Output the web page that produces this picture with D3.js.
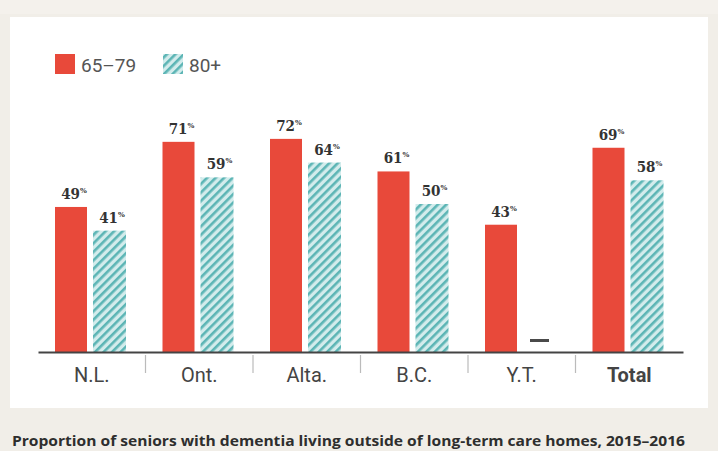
<!DOCTYPE html>
<html>
<head>
<meta charset="utf-8">
<script src="https://cdn.jsdelivr.net/npm/d3@7"></script>
<style>
  html, body { margin: 0; padding: 0; background: #f1eee8; }
  svg { display: block; }
</style>
</head>
<body>
<svg id="chart"></svg>
<script>
// chart data
const regions = ['N.L.', 'Ont.', 'Alta.', 'B.C.', 'Y.T.', 'Total'];
const series = ['65–79', '80+'];
const young = [49, 71, 72, 61, 43, 69];
const old = [41, 59, 64, 50, null, 58];

const dim = { width: 718, height: 451 };
const svg = d3.select('#chart')
  .attr('width', dim.width)
  .attr('height', dim.height);

// hatch pattern for the 80+ bars
const defs = svg.append('defs');
const pat = defs.append('pattern')
  .attr('id', 'hatch')
  .attr('patternUnits', 'userSpaceOnUse')
  .attr('width', 6)
  .attr('height', 6)
  .attr('patternTransform', 'rotate(45)');
pat.append('rect').attr('width', 6).attr('height', 6).attr('fill', '#d3ecec');
pat.append('rect').attr('x', 0).attr('width', 2.6).attr('height', 6).attr('fill', '#5cb5b5');

// top strip and white panel
svg.append('rect')
  .attr('x', 0).attr('y', 0).attr('width', dim.width).attr('height', 14)
  .attr('fill', '#f4f1ec');
svg.append('rect')
  .attr('x', 10).attr('y', 17).attr('width', 698).attr('height', 391)
  .attr('fill', '#ffffff');

// scales
const plot = { left: 38, right: 683, top: 56, bottom: 352 };
const x = d3.scaleBand()
  .domain(regions)
  .range([plot.left, plot.right]);
const y = d3.scaleLinear()
  .domain([0, 100])
  .range([plot.bottom, plot.top]);

const barW = 32;
const red = '#e8493a';

const groups = svg.append('g').selectAll('g')
  .data(regions)
  .join('g')
  .attr('transform', d => `translate(${x(d)},0)`);

// label with a small superscript percent sign
function addLabel(g, cx, v) {
  const t = g.append('text')
    .attr('x', cx)
    .attr('y', y(v) - 8)
    .attr('text-anchor', 'middle')
    .attr('font-family', 'DejaVu Serif Condensed, DejaVu Serif, serif')
    .attr('font-weight', 'bold')
    .attr('font-size', 15)
    .attr('fill', '#333');
  t.append('tspan').text(v);
  t.append('tspan').attr('font-size', 8).attr('dy', -6).text('%');
}

groups.each(function (d, i) {
  const g = d3.select(this);
  const rx = 17, tx = 55;
  g.append('rect')
    .attr('x', rx).attr('y', y(young[i]))
    .attr('width', barW).attr('height', plot.bottom - y(young[i]))
    .attr('fill', red);
  addLabel(g, rx + barW / 2 + 3, young[i]);

  if (old[i] != null) {
    g.append('rect')
      .attr('x', tx).attr('y', y(old[i]))
      .attr('width', barW + 1).attr('height', plot.bottom - y(old[i]))
      .attr('fill', 'url(#hatch)');
    addLabel(g, tx + barW / 2 + 3, old[i]);
  } else {
    // no data marker
    g.append('rect')
      .attr('x', tx + 7).attr('y', 339)
      .attr('width', 19).attr('height', 3)
      .attr('fill', '#4a4a4a');
  }
});

// axis with separators between categories
const axis = d3.axisBottom(x).tickSize(0).tickPadding(16);
const ax = svg.append('g')
  .attr('transform', `translate(0,${plot.bottom})`)
  .call(axis);
ax.select('.domain').attr('stroke', '#444').attr('stroke-width', 2.2);
ax.selectAll('.tick text')
  .attr('font-family', 'Roboto, Liberation Sans, sans-serif')
  .attr('font-size', 20)
  .attr('fill', '#444')
  .attr('font-weight', d => d === 'Total' ? 'bold' : 'normal')
  .attr('dy', '0.71em');

svg.append('g').selectAll('line')
  .data(regions.slice(1))
  .join('line')
  .attr('x1', d => x(d)).attr('x2', d => x(d))
  .attr('y1', plot.bottom + 3).attr('y2', plot.bottom + 21)
  .attr('stroke', '#bbb').attr('stroke-width', 1.2);

// legend
const legend = svg.append('g').attr('transform', 'translate(55,54)');
const legendFill = [red, 'url(#hatch)'];
const legendX = [0, 108];
series.forEach((s, i) => {
  legend.append('rect')
    .attr('x', legendX[i]).attr('y', 0)
    .attr('width', 20).attr('height', 20)
    .attr('fill', legendFill[i]);
  legend.append('text')
    .attr('x', legendX[i] + 26).attr('y', 18)
    .attr('font-family', 'Roboto, Liberation Sans, sans-serif')
    .attr('font-size', 19)
    .attr('fill', '#555')
    .text(s);
});

// caption
svg.append('text')
  .attr('x', 12).attr('y', 446)
  .attr('font-family', 'Open Sans, DejaVu Sans, sans-serif')
  .attr('font-weight', 'bold')
  .attr('font-size', 13.5)
  .attr('fill', '#2e2e2e')
  .attr('textLength', 673)
  .attr('lengthAdjust', 'spacingAndGlyphs')
  .text('Proportion of seniors with dementia living outside of long-term care homes, 2015–2016');
</script>
</body>
</html>
